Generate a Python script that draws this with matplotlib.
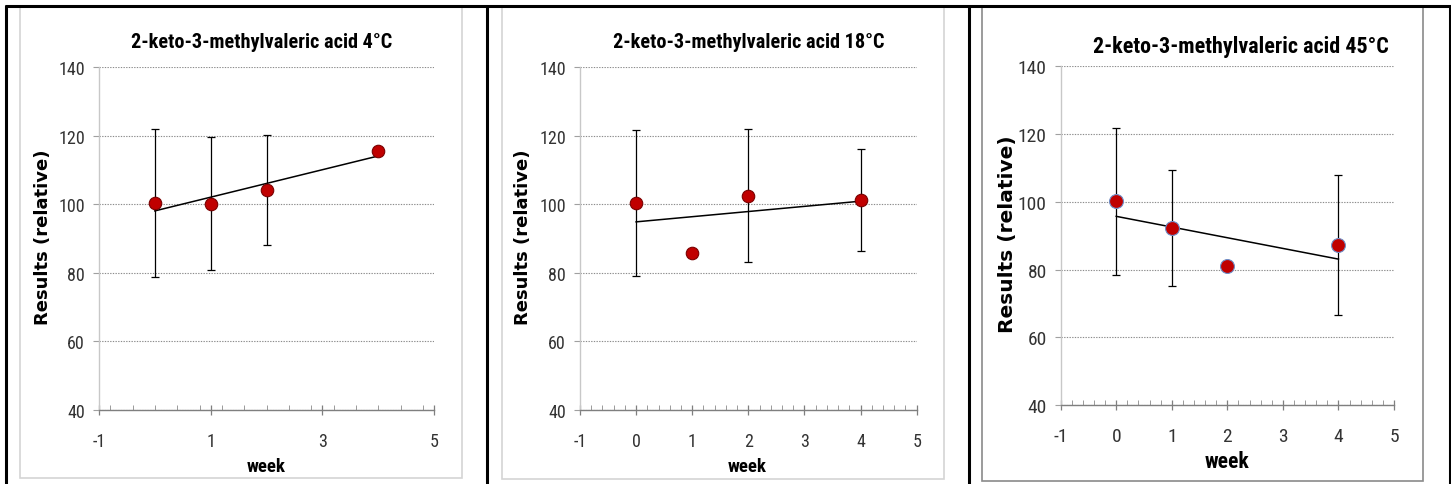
import numpy as np
import matplotlib
matplotlib.use("Agg")
import matplotlib.pyplot as plt
from matplotlib import font_manager
from matplotlib.patches import Rectangle
from matplotlib.ticker import MultipleLocator

plt.rcParams["axes.unicode_minus"] = False

# ---- data -------------------------------------------------------------
weeks = [0, 1, 2, 4]

titles = ["2-keto-3-methylvaleric acid 4°C",
          "2-keto-3-methylvaleric acid 18°C",
          "2-keto-3-methylvaleric acid 45°C"]

results_4c = [100.4, 100.2, 104.2, 115.5]
err_4c = [21.5, 19.4, 16.1, 0.0]

results_18c = [100.4, 85.9, 102.5, 101.2]
err_18c = [21.4, 0.0, 19.5, 14.8]

results_45c = [100.1, 92.2, 81.1, 87.3]
err_45c = [21.7, 17.2, 0.0, 20.7]

y_ticks = [40, 60, 80, 100, 120, 140]
x_ticks_sparse = [-1, 1, 3, 5]
x_ticks_full = [-1, 0, 1, 2, 3, 4, 5]

# ---- fonts ------------------------------------------------------------
available = {f.name for f in font_manager.fontManager.ttflist}


def pick(*names):
    for n in names:
        if n in available:
            return n
    return "DejaVu Sans"


NARROW = pick("Liberation Sans Narrow", "Roboto Condensed", "Open Sans Condensed",
              "DejaVu Sans Condensed", "Liberation Sans")
WIDE = pick("DejaVu Sans")

W, H = 1451, 485
fig = plt.figure(figsize=(W / 100, H / 100), dpi=100)
fig.patch.set_facecolor("white")

# background layer in pixel coordinates (origin top-left)
bg = fig.add_axes([0, 0, 1, 1])
bg.set_xlim(0, W)
bg.set_ylim(H, 0)
bg.axis("off")

# table borders
bg.plot([5, W], [6.5, 6.5], color="black", lw=2.2, solid_capstyle="butt")
for xv in [6, 487, 969, 1449.5]:
    bg.plot([xv, xv], [6, H], color="black", lw=2.2, solid_capstyle="butt")

# chart frames
frames = [(20, 7, 462, 479, "#d4d4d4"),
          (502, 7, 944, 480, "#d4d4d4"),
          (982, 7, 1423, 482, "#8a8a8a")]
for x0, y0, x1, y1, c in frames:
    bg.add_patch(Rectangle((x0, y0), x1 - x0, y1 - y0, fill=False,
                           edgecolor=c, lw=1.2))

panels = [
    dict(res=results_4c, err=err_4c, title=titles[0],
         box=(99, 68.3, 434, 410.7), xt=x_ticks_sparse, minor=0.4,
         title_xy=(262, 43), ylab_x=43, week_xy=(266, 467),
         tsize=14.6, ticksize=13, ylsize=13, wsize=13.5,
         edge="#7a0000", ms=9),
    dict(res=results_18c, err=err_18c, title=titles[1],
         box=(580, 68.3, 916.7, 410.7), xt=x_ticks_full, minor=0.2,
         title_xy=(749, 43), ylab_x=523, week_xy=(747, 467),
         tsize=14.6, ticksize=13, ylsize=13, wsize=13.5,
         edge="#7a0000", ms=9),
    dict(res=results_45c, err=err_45c, title=titles[2],
         box=(1060.7, 67.3, 1394, 406), xt=x_ticks_full, minor=0.2,
         title_xy=(1241, 47), ylab_x=1007, week_xy=(1227, 462),
         tsize=15.8, ticksize=14, ylsize=14.5, wsize=15.5,
         edge="#6f8fc8", ms=10),
]

for p in panels:
    l, t, r, b = p["box"]
    ax = fig.add_axes([l / W, 1 - b / H, (r - l) / W, (b - t) / H])
    ax.set_xlim(-1, 5)
    ax.set_ylim(40, 140)
    ax.patch.set_alpha(0)

    # horizontal dotted gridlines
    ax.set_yticks(y_ticks)
    ax.yaxis.grid(True, color="#8c8c8c", linestyle=(0, (1.2, 1.2)), lw=0.8)
    ax.set_axisbelow(True)

    for s in ["top", "right"]:
        ax.spines[s].set_visible(False)
    ax.spines["left"].set_color("#c8c8c8")
    ax.spines["left"].set_linewidth(1.0)
    ax.spines["bottom"].set_color("#7f7f7f")
    ax.spines["bottom"].set_linewidth(1.0)

    ax.set_xticks(p["xt"])
    ax.xaxis.set_minor_locator(MultipleLocator(p["minor"]))
    ax.tick_params(axis="x", which="major", direction="inout", length=7,
                   width=0.9, color="#7f7f7f", pad=12.5,
                   labelsize=p["ticksize"], labelcolor="#333333")
    ax.tick_params(axis="x", which="minor", direction="in", length=3.5,
                   width=0.7, color="#9a9a9a")
    ax.tick_params(axis="y", which="major", direction="out", length=4,
                   width=0.8, color="#a0a0a0", pad=6,
                   labelsize=p["ticksize"], labelcolor="#333333")
    for lab in ax.get_xticklabels() + ax.get_yticklabels():
        lab.set_family(NARROW)

    x = np.array(weeks, dtype=float)
    y = np.array(p["res"], dtype=float)
    e = np.array(p["err"], dtype=float)

    # linear trend line fitted to the measurements
    slope, intercept = np.polyfit(x, y, 1)
    ax.plot([x.min(), x.max()], [intercept + slope * x.min(),
                                 intercept + slope * x.max()],
            color="black", lw=1.1, zorder=3)

    has_err = e > 0
    ax.errorbar(x[has_err], y[has_err], yerr=e[has_err], fmt="none",
                ecolor="black", elinewidth=0.9, capsize=3, capthick=0.9,
                zorder=2)
    ax.plot(x, y, "o", ms=p["ms"], mfc="#c00000", mec=p["edge"], mew=0.8,
            zorder=4)

    # labels
    bg.text(p["title_xy"][0], p["title_xy"][1], p["title"], ha="center",
            va="center", fontsize=p["tsize"], fontweight="bold",
            family=NARROW, color="black")
    bg.text(p["ylab_x"], (t + b) / 2 - 2, "Results (relative)", rotation=90,
            ha="center", va="center", fontsize=p["ylsize"], fontweight="bold",
            family=WIDE, color="black")
    bg.text(p["week_xy"][0], p["week_xy"][1], "week", ha="center",
            va="center", fontsize=p["wsize"], fontweight="bold",
            family=NARROW, color="black")

fig.savefig("out.png", dpi=100, facecolor="white")
